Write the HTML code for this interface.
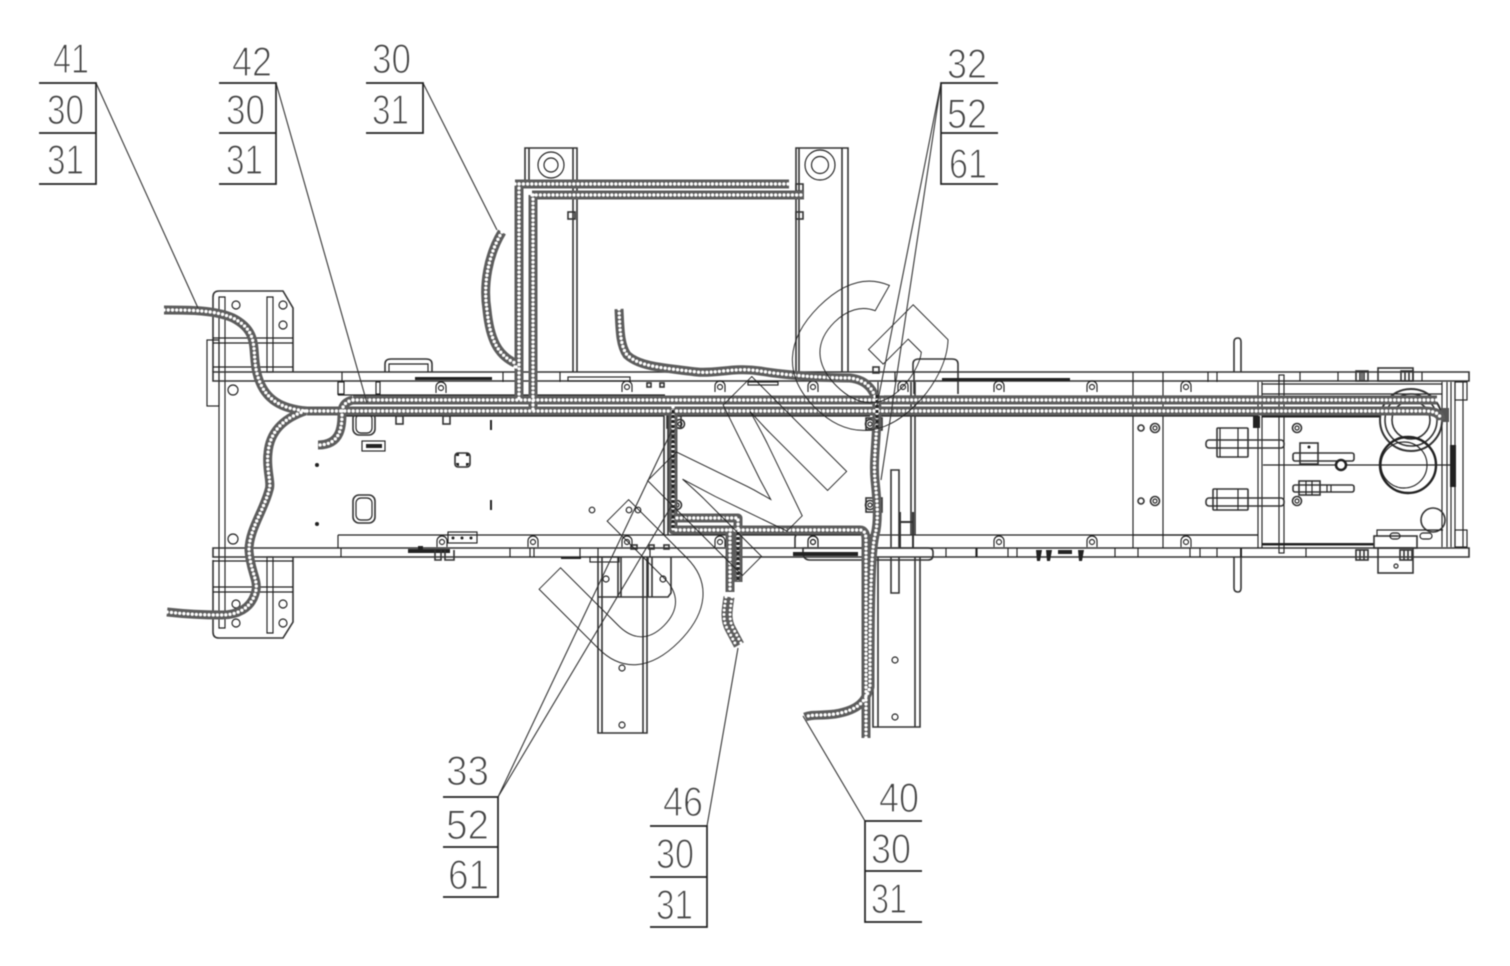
<!DOCTYPE html>
<html><head><meta charset="utf-8">
<style>
html,body{margin:0;padding:0;background:#fff;width:1510px;height:966px;overflow:hidden}
svg{display:block;filter:blur(.45px)}
.l{fill:none;stroke:#222;stroke-width:1.15}
.l2{fill:none;stroke:#333;stroke-width:1.6}
.d{fill:#222;stroke:none}
.t{font-family:"Liberation Sans",sans-serif;font-size:42px;fill:#444;stroke:#fff;stroke-width:1.3}
.wm{font-family:"Liberation Sans",sans-serif;font-weight:bold;font-size:195px;fill:none;stroke:#222;stroke-width:.9}
.lead{fill:none;stroke:#333;stroke-width:1.1}
.box{fill:none;stroke:#222;stroke-width:1.7}
.k1{fill:none;stroke:#5c5c5c;stroke-width:9;stroke-linecap:butt;stroke-linejoin:round}
.k2{fill:none;stroke:#fff;stroke-width:3.4;stroke-linecap:round;stroke-dasharray:0 4.2;stroke-linejoin:round}
</style></head><body>
<svg width="1510" height="966" viewBox="0 0 1510 966" xmlns="http://www.w3.org/2000/svg">
<defs>
<g id="clip"><path class="l" d="M-5 5V-1a5 5 0 0 1 10 0V5"/><circle class="l" cx="0" cy="0" r="2.5"/></g>
<g id="hole"><circle class="l" r="2.8"/></g>
<g id="nut"><circle class="l2" r="4.5"/><circle class="l" r="2"/></g>
<g id="bolt"><rect class="l2" x="-6" y="-5" width="12" height="10"/><path class="l2" d="M-2-5V5M2-5V5"/></g>
<g id="cables">
<path d="M515 184H789"/>
<path d="M519 184V400"/>
<path d="M532 195H804"/>
<path d="M533 195V411"/>
<path d="M353 400H1437"/>
<path d="M307 411H1425Q1440 411 1441 420"/>
<path d="M353 400Q343 402 342 411"/>
<path d="M342 411C342 425 342 445 318 445"/>
<path d="M164 310C190 310 215 310 233 318C262 333 250 352 258 377C265 400 282 409 307 411"/>
<path d="M305 411C285 418 270 430 268 453C266 470 272 483 269 490C264 510 249 530 249 550C250 570 258 580 256 590C252 610 235 615 222 615C200 615 185 614 167 612"/>
<path d="M502 232C488 255 483 285 487 310C490 340 498 355 515 363"/>
<path d="M619 309C620 330 620 345 627 355C640 367 665 368 697 372C715 374 735 367 760 371C790 376 830 378 850 378C868 380 877 392 877 410C877 440 873 460 875 480C877 500 879 520 875 535C871 553 870 600 870 687C866 700 860 710 835 714C820 716 812 714 805 717"/>
<path d="M673 407V530H860Q866 530 866 540V738"/>
<path d="M677 518H738V582"/>
<path d="M730 530V592"/>
<path d="M516 367H518"/>
</g>
</defs>

<!-- left plate -->
<path class="l2" d="M219 291H283L293 308V372M293 557V622L283 638H219Q213 638 213 632V560M213 372V297Q213 291 219 291"/>
<path class="l" d="M219 297H225V628H219ZM267 297H273V372H267ZM267 557H273V633H267Z"/>
<path class="l" d="M213 338H293M213 343H293M213 367H293M213 561H293M213 587H293M213 592H293"/>
<rect class="l" x="207" y="340" width="12" height="66"/>
<circle class="l" cx="236" cy="305" r="4"/><circle class="l" cx="283" cy="305" r="4"/><circle class="l" cx="283" cy="325" r="4"/>
<circle class="l" cx="233" cy="390" r="5"/><circle class="l" cx="233" cy="539" r="5"/>
<circle class="l" cx="236" cy="604" r="4"/><circle class="l" cx="236" cy="623" r="4"/><circle class="l" cx="283" cy="604" r="4"/><circle class="l" cx="283" cy="623" r="4"/>

<!-- rails -->
<path class="l2" d="M213 372H1469V381H213ZM213 548H1469V557H213Z"/>
<path class="l" d="M342 372V382M503 372V382M522 372V382M560 372V382M895 372V382M1133 372V382M1163 372V382M1208 372V382M1217 372V382M1300 372V381M1338 372V381M1362 372V381M1422 372V381M341 548V557M510 548V557M530 548V557M534 548V557M580 548V557M598 548V557M650 548V557M946 548V557M976 548V557M977 548V557M1008 548V557M1017 548V557M1115 548V557M1138 548V557M1190 548V557M1200 548V557M1217 548V557M1306 548V557"/>
<path class="l" d="M338 395H665M338 382V395M338 416H664M338 535H1258M338 535V548M679 416H870M880 416H1258M884 396H1258"/>
<path class="l" d="M1133 381V548M1163 381V548M878 382V395M1258 382V548M1262 382V548"/>
<path class="l2" d="M664 415V535M668 415V535M911 382V535M915 382V535"/>
<rect x="568" y="377" width="62" height="4" class="l"/>
<rect x="748" y="382" width="30" height="3" class="l"/>

<!-- top fixture -->
<path class="l2" d="M525 182V148H577V372M573 148V372M529 148V182M796 372V148H848V372M799 148V372M842 148V372"/>
<circle class="l" cx="551" cy="165" r="13"/><circle class="l" cx="551" cy="165" r="7"/>
<circle class="l" cx="820" cy="165" r="15"/><circle class="l" cx="820" cy="165" r="8.5"/>
<rect class="l2" x="568" y="212" width="7" height="7"/><rect class="l2" x="796" y="184" width="7" height="7"/><rect class="l2" x="796" y="212" width="7" height="7"/>

<!-- upper rail parts -->
<path class="l2" d="M385 372V364Q385 359 391 359H426Q432 359 432 364V372"/>
<path class="l" d="M389 372V364H428V372"/>
<rect class="d" x="415" y="377" width="77" height="3"/>
<path class="l2" d="M913 372V364Q913 359 919 359H952Q958 359 958 364V372M958 372V394M914 372V394"/>
<rect class="d" x="942" y="378" width="128" height="3"/>
<rect class="l" x="338" y="382" width="6" height="12"/><rect class="l" x="376" y="382" width="4" height="12"/>
<use href="#clip" x="441" y="388"/><use href="#clip" x="627" y="387"/><use href="#clip" x="720" y="387"/><use href="#clip" x="813" y="387"/><use href="#clip" x="903" y="387"/><use href="#clip" x="999" y="387"/><use href="#clip" x="1092" y="387"/><use href="#clip" x="1186" y="387"/>
<use href="#clip" x="442" y="542"/><use href="#clip" x="533" y="542"/><use href="#clip" x="627" y="542"/><use href="#clip" x="720" y="542"/><use href="#clip" x="813" y="542"/><use href="#clip" x="999" y="542"/><use href="#clip" x="1092" y="542"/><use href="#clip" x="1186" y="542"/>
<rect class="l2" x="647" y="383" width="4" height="4"/><rect class="l2" x="660" y="383" width="4" height="4"/><rect class="l2" x="631" y="545" width="6" height="4"/><rect class="l2" x="649" y="545" width="5" height="4"/><rect class="l2" x="664" y="545" width="5" height="4"/>
<rect class="l2" x="873" y="367" width="6" height="6"/><rect class="l2" x="396" y="416" width="7" height="8"/><rect class="l2" x="443" y="416" width="7" height="8"/>

<!-- panel details -->
<rect class="l2" x="353" y="412" width="22" height="23" rx="6"/><rect class="l" x="356" y="414" width="16" height="19" rx="5"/>
<rect class="l2" x="353" y="495" width="22" height="28" rx="6"/><rect class="l" x="356" y="498" width="16" height="22" rx="5"/>
<rect class="l" x="362" y="441" width="23" height="10"/><rect class="d" x="366" y="444" width="16" height="4"/>
<path d="M456 456q0-3 3-3l0 3zM466 456l0-3q3 0 3 3zM456 463l3 0 0 3q-3 0-3-3zM466 463l3 0q0 3-3 3z" class="d"/>
<rect class="l2" x="455" y="453" width="15" height="14" rx="3"/>
<circle class="d" cx="317" cy="465" r="2"/><circle class="d" cx="317" cy="524" r="2"/>
<rect class="d" x="490" y="420" width="2" height="10"/><rect class="d" x="490" y="500" width="2" height="10"/>
<use href="#hole" x="592" y="510"/><use href="#hole" x="629" y="510"/><use href="#hole" x="638" y="510"/>
<rect class="d" x="408" y="549" width="42" height="4"/><rect class="d" x="418" y="546" width="5" height="3"/>
<path class="l2" d="M435 550V560H441V550M445 550V560H454V550"/>
<rect class="l" x="448" y="532" width="29" height="11"/><circle class="d" cx="453" cy="538" r="1.5"/><circle class="d" cx="462" cy="538" r="1.5"/><circle class="d" cx="471" cy="538" r="1.5"/>
<rect class="l" x="590" y="557" width="29" height="5"/><rect class="d" x="561" y="557" width="20" height="2"/>

<!-- lower left fixture -->
<path class="l2" d="M598 557V733H647V557M602 557V733M643 557V733M618 557V597M621 557V597M648 557V597M652 557V597M598 597H668L671 593V557"/>
<circle class="l" cx="622" cy="668" r="3"/><circle class="l" cx="622" cy="725" r="3"/><circle class="l" cx="606" cy="579" r="3"/><circle class="l" cx="663" cy="579" r="3"/>

<!-- lower right fixture -->
<path class="l2" d="M873 557V727H920V557M878 557V727M915 557V727M891 557V593H899V557M891 547V470H899V547"/>
<circle class="l" cx="895" cy="660" r="3"/><circle class="l" cx="895" cy="717" r="3"/>
<path class="l2" d="M900 512V548M913 512V548M900 522H913" style="stroke-width:2"/>
<path class="l2" d="M803 548H928Q933 548 933 552V555Q933 560 928 560H810Q803 560 803 552Z"/>
<rect class="d" x="793" y="552" width="65" height="4"/>
<path class="l2" d="M795 548V538Q795 534 800 534H817"/>
<use href="#clip" x="813" y="542"/>
<rect class="l2" x="866" y="418" width="16" height="12"/><rect class="l2" x="866" y="498" width="16" height="14"/>
<use href="#nut" x="870" y="424"/><use href="#nut" x="870" y="505"/>
<rect class="l2" x="667" y="416" width="14" height="12"/><use href="#nut" x="680" y="424"/><use href="#nut" x="677" y="505"/>
<path class="d" d="M1036 550h6l-2 11h-3zM1046 550h6l-2 11h-3zM1078 550h6l-2 11h-3zM1058 550h14v4h-14z"/>

<!-- right end -->
<rect class="l" x="1279" y="375" width="5" height="178"/>
<path class="l2" d="M1234 372V342Q1234 338 1238 338Q1241 338 1241 342V372M1234 557V588Q1234 592 1238 592Q1241 592 1241 588V557"/>
<rect class="d" x="1240" y="548" width="2" height="9"/>
<path class="l" d="M1262 384H1442M1133 535H1258M1263 465H1451M1262 394H1442"/>
<rect class="d" x="1262" y="415" width="118" height="2.5"/>
<rect class="d" x="1262" y="543" width="112" height="2.5"/>
<rect class="d" x="1253" y="416" width="7" height="12"/>
<path class="l" d="M1442 382V547M1447 382V547M1451 382V547M1455 382V547M1463 382V547"/>
<rect class="l" x="1455" y="382" width="12" height="18"/><rect class="l" x="1455" y="530" width="12" height="17"/>
<circle class="l2" cx="1141" cy="428" r="3"/><use href="#nut" x="1155" y="428"/>
<circle class="l2" cx="1141" cy="501" r="3"/><use href="#nut" x="1155" y="501"/>
<use href="#nut" x="1297" y="428"/><use href="#nut" x="1297" y="501"/>
<rect class="l2" x="1206" y="440" width="78" height="8" rx="3"/><rect class="l2" x="1217" y="428" width="31" height="29" rx="1"/><path class="l" d="M1220 428V457M1238 428V457"/>
<rect class="l2" x="1206" y="498" width="78" height="8" rx="3"/><rect class="l2" x="1213" y="489" width="35" height="21" rx="1"/><path class="l" d="M1217 489V510M1238 489V510"/>
<rect class="l2" x="1293" y="453" width="61" height="8" rx="2"/><rect class="l2" x="1300" y="443" width="18" height="21"/><circle class="d" cx="1309" cy="447" r="1.5"/>
<rect class="l2" x="1293" y="485" width="61" height="7" rx="2"/><rect class="l2" x="1299" y="481" width="21" height="14"/><path class="l" d="M1306 481V495M1312 481V495M1327 485V492M1331 485V492"/>
<circle cx="1341" cy="465" r="5" fill="#fff" stroke="#222" stroke-width="2.5"/>
<circle class="l2" cx="1411" cy="420" r="31" style="stroke-width:2"/><circle class="l2" cx="1411" cy="420" r="26"/><circle class="l2" cx="1411" cy="420" r="19"/>
<circle cx="1408" cy="465" r="28" fill="none" stroke="#222" stroke-width="2.4"/><circle class="l" cx="1404" cy="465" r="23"/>
<circle class="l2" cx="1433" cy="520" r="12"/>
<rect class="d" x="1450" y="445" width="6" height="42"/>
<rect x="1441" y="408" width="8" height="14" fill="#555"/>
<rect class="l2" x="1378" y="368" width="35" height="13"/>
<use href="#bolt" x="1362" y="376"/><use href="#bolt" x="1407" y="376"/>
<rect class="l2" x="1378" y="548" width="35" height="25"/><rect class="l2" x="1374" y="536" width="43" height="12"/>
<path class="l" d="M1377 536V530H1443"/>
<use href="#bolt" x="1362" y="555"/><use href="#bolt" x="1406" y="555"/>
<circle class="l" cx="1396" cy="566" r="2"/><rect class="l" x="1390" y="533" width="10" height="6" rx="3"/><rect class="l" x="1420" y="533" width="12" height="6" rx="3"/>

<!-- cables -->
<use href="#cables" class="k1"/>
<use href="#cables" class="k2"/>
<path d="M729 597C727 610 725 620 731 630L739 645" fill="none" stroke="#5c5c5c" stroke-width="11"/>
<path d="M726 597C724 610 722 620 728 630L736 645M732 597C730 610 728 620 734 630L742 645" fill="none" stroke="#fff" stroke-width="3" stroke-linecap="round" stroke-dasharray="0 4.4"/>
<path d="M673 410V528M877 395V430M738 532V580" fill="none" stroke="#222" stroke-width="3" stroke-dasharray="3 2"/>

<!-- watermark -->
<text class="wm" transform="translate(625 693) rotate(-45) scale(1.08 1)">UMG</text>

<!-- leaders -->
<path class="lead" d="M96 83L198 308M276 83L367 403M423 83L497 230M941 83L877 405M941 83L881 480M498 797L672 430M498 797L672 505M707 826L738 648M865 821L803 716"/>

<!-- label boxes -->
<path class="box" d="M39 83H96V184H39M39 133H96"/>
<path class="box" d="M219 83H276V184H219M219 133H276"/>
<path class="box" d="M366 83H423V133H366"/>
<path class="box" d="M998 83H941V184H998M941 133H998"/>
<path class="box" d="M443 797H498V897H443M443 847H498"/>
<path class="box" d="M650 826H707V927H650M650 877H707"/>
<path class="box" d="M922 821H865V922H922M865 871H922"/>

<g class="t">
<text x="53" y="73" textLength="36" lengthAdjust="spacingAndGlyphs">41</text>
<text x="47" y="124" textLength="37" lengthAdjust="spacingAndGlyphs">30</text>
<text x="47" y="174" textLength="37" lengthAdjust="spacingAndGlyphs">31</text>
<text x="232" y="76" textLength="40" lengthAdjust="spacingAndGlyphs">42</text>
<text x="226" y="124" textLength="39" lengthAdjust="spacingAndGlyphs">30</text>
<text x="226" y="174" textLength="37" lengthAdjust="spacingAndGlyphs">31</text>
<text x="372" y="73" textLength="39" lengthAdjust="spacingAndGlyphs">30</text>
<text x="372" y="124" textLength="37" lengthAdjust="spacingAndGlyphs">31</text>
<text x="947" y="78" textLength="40" lengthAdjust="spacingAndGlyphs">32</text>
<text x="947" y="128" textLength="40" lengthAdjust="spacingAndGlyphs">52</text>
<text x="949" y="178" textLength="38" lengthAdjust="spacingAndGlyphs">61</text>
<text x="446" y="785" textLength="43" lengthAdjust="spacingAndGlyphs">33</text>
<text x="446" y="839" textLength="43" lengthAdjust="spacingAndGlyphs">52</text>
<text x="448" y="889" textLength="41" lengthAdjust="spacingAndGlyphs">61</text>
<text x="663" y="816" textLength="40" lengthAdjust="spacingAndGlyphs">46</text>
<text x="656" y="868" textLength="38" lengthAdjust="spacingAndGlyphs">30</text>
<text x="656" y="919" textLength="37" lengthAdjust="spacingAndGlyphs">31</text>
<text x="879" y="812" textLength="40" lengthAdjust="spacingAndGlyphs">40</text>
<text x="871" y="863" textLength="40" lengthAdjust="spacingAndGlyphs">30</text>
<text x="871" y="913" textLength="36" lengthAdjust="spacingAndGlyphs">31</text>
</g>
</svg>
</body></html>
